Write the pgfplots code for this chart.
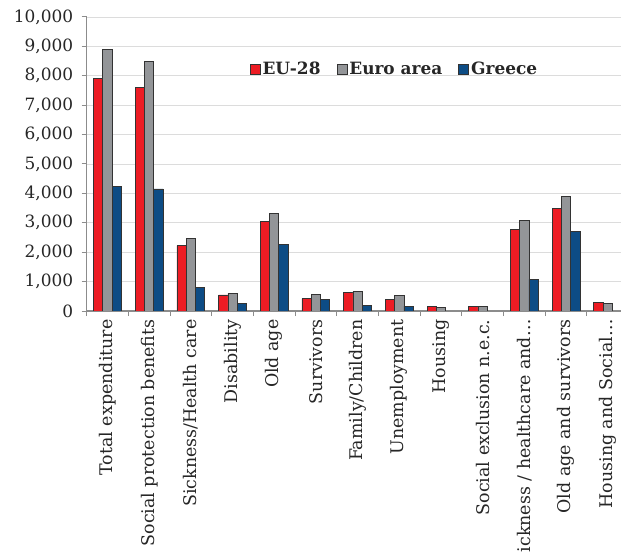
\documentclass[border=0pt]{standalone}
\usepackage{fontspec}
\setmainfont{DejaVu Serif}
\usepackage{pgfplots}
\pgfplotsset{compat=1.18}
\definecolor{cred}{HTML}{ED1C24}
\definecolor{cgray}{HTML}{939598}
\definecolor{cblue}{HTML}{0D4C85}
\definecolor{axgray}{HTML}{8C8C8C}
\definecolor{gridgray}{HTML}{DCDCDC}
\definecolor{txt}{HTML}{262626}
\begin{document}
\begin{tikzpicture}
\path[use as bounding box, clip] (0bp,0bp) rectangle (621bp,553bp);
\begin{axis}[
  at={(86.7bp,242bp)}, anchor=south west,
  scale only axis, width=534.3bp, height=294bp,
  xmin=-0.5, xmax=12.32, ymin=0, ymax=10000,
  ybar=0pt, bar width=9.3bp,
  axis x line*=bottom, axis y line*=left,
  axis line style={axgray, line width=1.2bp},
  ytick={0,1000,...,10000},
  scaled y ticks=false,
  ymajorgrids, grid style={gridgray, line width=0.8bp},
  xtick={0,...,12},
  minor xtick={-0.5,0.5,...,11.5},
  major tick length=5bp, minor tick length=5bp, tick align=outside,
  tick style={axgray, line width=1bp},
  major x tick style={draw=none},
  xticklabels={Total expenditure, Social protection benefits, Sickness/Health care, Disability, Old age, Survivors, Family/Children, Unemployment, Housing, Social exclusion n.e.c., Sickness\ /\ healthcare and…, Old age and survivors, Housing and Social…},
  xticklabel style={rotate=90, anchor=east, font=\fontsize{17.5}{20}\selectfont, text=txt},
  yticklabel style={font=\fontsize{17}{20}\selectfont, text=txt, xshift=-5bp, /pgf/number format/fixed},
  /pgf/number format/.cd, 1000 sep={,}, assume math mode=true,
  /pgfplots/.cd,
  legend columns=-1,
  legend style={at={(0.576,0.823)}, anchor=center, draw=none, fill=none,
    font=\bfseries\fontsize{17}{20}\selectfont, text=txt,
    /tikz/every even column/.append style={column sep=14bp}},
  legend image code/.code={\draw[#1, draw=black!80, line width=0.8bp] (0bp,-5bp) rectangle (10bp,5bp);},
]
\addplot[fill=cred, draw=black!80, line width=0.8bp] coordinates {(0,7900) (1,7600) (2,2220) (3,545) (4,3060) (5,420) (6,635) (7,385) (8,160) (9,148) (10,2765) (11,3480) (12,295)};
\addplot[fill=cgray, draw=black!80, line width=0.8bp] coordinates {(0,8900) (1,8500) (2,2480) (3,600) (4,3330) (5,566) (6,670) (7,520) (8,125) (9,148) (10,3090) (11,3910) (12,262)};
\addplot[fill=cblue, draw=black!80, line width=0.8bp] coordinates {(0,4230) (1,4150) (2,815) (3,272) (4,2277) (5,408) (6,181) (7,170) (10,1076) (11,2696)};
\legend{EU-28, Euro area, Greece}
\end{axis}
\end{tikzpicture}
\end{document}
